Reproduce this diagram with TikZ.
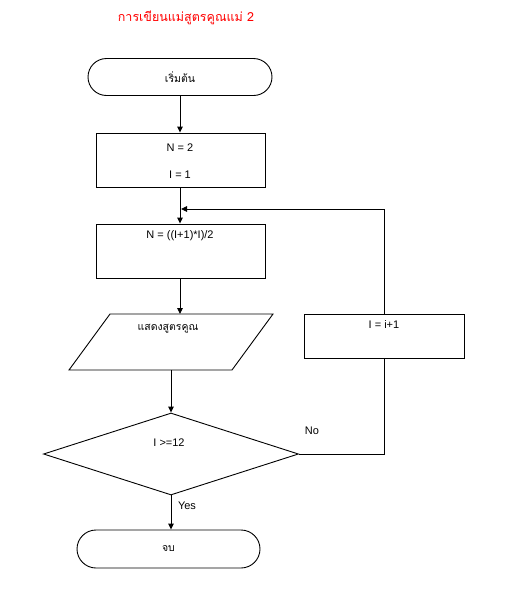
\documentclass[tikz,border=0pt]{standalone}
\usepackage{fontspec}
\setmainfont{Liberation Sans}
\newfontfamily\thaifont[Script=Thai]{Loma}
\usetikzlibrary{shapes.geometric,arrows.meta}
\begin{document}
\begin{tikzpicture}[x=1pt,y=-1pt,
  line width=0.9pt,
  txt/.style={font=\fontsize{11}{13}\selectfont, inner sep=0pt},
  box/.style={draw, minimum width=169pt, minimum height=54pt, inner sep=0pt},
  term/.style={draw, rounded corners=18.5pt, minimum width=184pt, minimum height=37pt, inner sep=0pt, font=\thaifont\fontsize{10.5}{12}\selectfont},
  arr/.style={-{Triangle[length=6pt,width=5.5pt]}}
]
\useasboundingbox (0,0) rectangle (507,611);
\fill[white] (0,0) rectangle (507,611);

\node[red, inner sep=0pt, font=\thaifont\fontsize{12.5}{15}\selectfont] (title) at (186,18) {การเขียนแม่สูตรคูณแม่ 2};

\node[term] (start) at (180,77) {เริ่มต้น};

\node[box] (b1) at (180.5,160) {};
\node[txt, align=center, font=\fontsize{11}{27}\selectfont] (b1t) at (180,161.5) {N = 2\\I = 1};

\node[box] (b2) at (180.5,251) {};
\node[txt] (b2t) at (180,236) {N = ((I+1)*I)/2};

\coordinate (pTL) at (110,314);
\coordinate (pTR) at (273,314);
\coordinate (pBR) at (232,370);
\coordinate (pBL) at (69,370);
\draw (pTL) -- (pTR) -- (pBR) -- (pBL) -- cycle;
\coordinate (pin) at (180,314);
\coordinate (pout) at (171,370);
\node[txt, font=\thaifont\fontsize{10.5}{12}\selectfont] (pt) at (168,329) {แสดงสูตรคูณ};

\node[draw, diamond, minimum width=255pt, minimum height=82pt, inner sep=0pt] (dia) at (171,454) {};
\node[txt] (diat) at (169,443) {I >=12};

\node[term, minimum width=183pt, minimum height=38pt, rounded corners=19pt] (end) at (168.5,549) {จบ};

\node[draw, minimum width=160pt, minimum height=44pt, inner sep=0pt] (b3) at (384,336) {};
\node[txt] (b3t) at (384,325) {I = i+1};

\coordinate (merge) at (181,209);

\draw[arr] (start.south) -- (start.south |- b1.north);
\draw[arr] (b1.south -| start.south) -- (start.south |- b2.north);
\draw[arr] (b2.south -| start.south) -- (pin);
\draw[arr] (pout) -- (dia.north);
\draw[arr] (dia.south) -- (dia.south |- end.north);
\draw (dia.east) -- (b3.south |- dia.east) -- (b3.south);
\draw[arr] (b3.north) -- (b3.north |- merge) -- (merge);

\node[txt] (yes) at (187,506) {Yes};
\node[txt] (no) at (312,431) {No};
\end{tikzpicture}
\end{document}
